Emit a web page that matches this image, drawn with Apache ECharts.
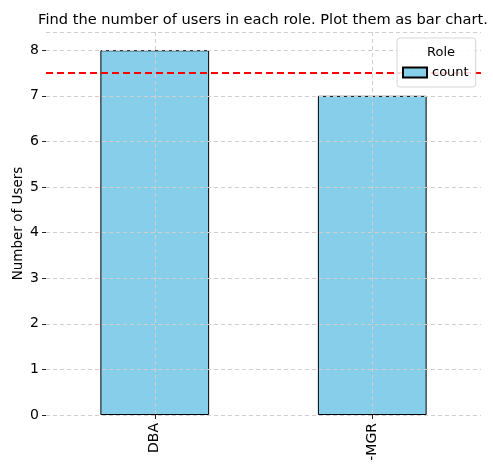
<!DOCTYPE html>
<html>
<head>
<meta charset="utf-8">
<script src="https://cdn.jsdelivr.net/npm/echarts@6/dist/echarts.min.js"></script>
<style>html,body{margin:0;padding:0;background:#fff}#c{width:493px;height:464px}</style>
</head>
<body>
<div id="c"></div>
<script>
const roles = ['DBA', '-MGR'];
const counts = [8, 7];
const meanValue = 7.5;
const titleText = 'Find the number of users in each role. Plot them as bar chart.';
const yAxisName = 'Number of Users';
const legendTitle = 'Role';
const seriesName = 'count';

const font = 'DejaVu Sans';
const chart = echarts.init(document.getElementById('c'), null, {renderer: 'canvas'});
chart.setOption({
  animation: false,
  backgroundColor: '#fff',
  title: [
    {text: titleText, left: 258, top: 8, textAlign: 'center', z: 12,
     textStyle: {fontFamily: font, fontSize: 14.6, fontWeight: 'normal', color: '#000'}},
    {text: legendTitle, left: 436, top: 41, textAlign: 'center', z: 12,
     textStyle: {fontFamily: font, fontSize: 13, fontWeight: 'normal', color: '#000'}}
  ],
  legend: {
    left: 397, top: 38, z: 10,
    padding: [28, 7, 8, 5],
    borderColor: '#d6d6d6', borderWidth: 1, borderRadius: 3,
    backgroundColor: 'rgba(255,255,255,0.85)',
    itemWidth: 24, itemHeight: 10, itemGap: 6,
    icon: 'rect',
    textStyle: {fontFamily: font, fontSize: 13, color: '#000'},
    data: [seriesName]
  },
  grid: {left: 46, right: 12, top: 32, bottom: 49, outerBoundsMode: 'none', containLabel: false},
  xAxis: {
    type: 'category', data: roles, z: 5,
    axisLine: {show: false},
    axisTick: {show: true, alignWithLabel: true, length: 4, lineStyle: {color: '#222'}},
    axisLabel: {rotate: 90, margin: 8, fontFamily: font, fontSize: 14, color: '#000'},
    splitLine: {show: true, alignWithLabel: true, lineStyle: {color: '#cfcfcf', type: [4, 3], width: 1}}
  },
  yAxis: {
    type: 'value', min: 0, max: 8.4, interval: 1, z: 5,
    name: yAxisName, nameLocation: 'middle', nameGap: 21, nameMoveOverlap: false,
    nameTextStyle: {fontFamily: font, fontSize: 13.5, color: '#000'},
    axisLine: {show: false},
    axisTick: {show: true, length: 4, lineStyle: {color: '#222'}},
    axisLabel: {margin: 7, fontFamily: font, fontSize: 14, color: '#000', showMaxLabel: false},
    splitLine: {show: true, lineStyle: {color: '#cfcfcf', type: [4, 3], width: 1}}
  },
  series: [{
    name: seriesName, type: 'bar', data: counts, barWidth: '50%',
    itemStyle: {color: '#87CEEB', borderColor: '#000', borderWidth: 1},
    markLine: {
      silent: true, symbol: 'none', label: {show: false},
      lineStyle: {color: '#ff0000', type: [7, 4], width: 2},
      data: [{yAxis: meanValue}]
    }
  }]
});
</script>
</body>
</html>
